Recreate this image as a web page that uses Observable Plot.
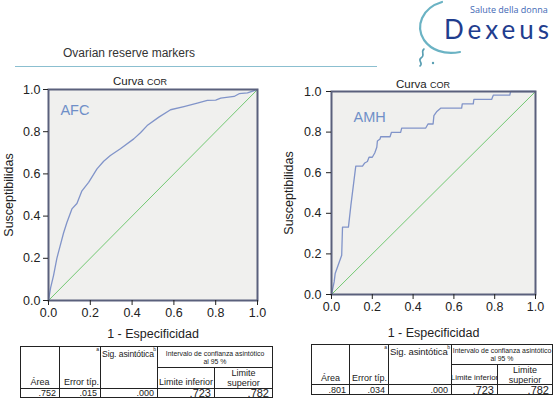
<!DOCTYPE html>
<html>
<head>
<meta charset="utf-8">
<script src="https://cdn.jsdelivr.net/npm/d3@7"></script>
<script src="https://cdn.jsdelivr.net/npm/@observablehq/plot@0.6"></script>
<style>
  html, body { margin: 0; padding: 0; background: #fff; }
  #page { position: relative; width: 553px; height: 398px; overflow: hidden; font-family: "Liberation Sans", Arial, sans-serif; color: #222; }
  .abs { position: absolute; }
  .ctitle { font-size: 11.5px; white-space: nowrap; transform: translateX(-50%); }
  .ctitle small { font-size: 9px; }
  .cell { position: absolute; box-sizing: border-box; border: 1px solid #222; overflow: hidden; white-space: nowrap; color: #222; font-family: "Liberation Sans", Arial, sans-serif; display: flex; }
  .cell sup { position: absolute; right: 1px; top: 0px; font-size: 5px; line-height: 5px; }
</style>
</head>
<body>
<div id="page"></div>
<script>
// ---------------- data ----------------
const afcFpr = [0, 0.01, 0.024, 0.04, 0.056, 0.072, 0.088, 0.112, 0.136, 0.16, 0.192, 0.232, 0.264, 0.296, 0.344, 0.408, 0.44, 0.472, 0.528, 0.584, 0.648, 0.712, 0.76, 0.8, 0.824, 0.888, 0.912, 0.952, 1];
const afcTpr = [0, 0.06, 0.118, 0.2, 0.26, 0.32, 0.37, 0.434, 0.46, 0.52, 0.56, 0.624, 0.66, 0.687, 0.719, 0.766, 0.795, 0.829, 0.869, 0.904, 0.919, 0.935, 0.948, 0.95, 0.959, 0.967, 0.98, 0.984, 1];

const amhFpr = [0, 0.013, 0.018, 0.05, 0.054, 0.083, 0.095, 0.119, 0.152, 0.163, 0.176, 0.184, 0.2, 0.212, 0.222, 0.225, 0.238, 0.241, 0.287, 0.294, 0.339, 0.344, 0.462, 0.473, 0.498, 0.502, 0.515, 0.535, 0.638, 0.641, 0.695, 0.698, 0.785, 0.793, 0.874, 0.878, 1];
const amhTpr = [0, 0.062, 0.103, 0.193, 0.332, 0.332, 0.439, 0.632, 0.632, 0.648, 0.655, 0.676, 0.676, 0.697, 0.725, 0.756, 0.766, 0.777, 0.777, 0.799, 0.799, 0.82, 0.82, 0.84, 0.84, 0.881, 0.9, 0.918, 0.918, 0.939, 0.939, 0.961, 0.961, 0.982, 0.982, 1, 1];

const diagonal = [0, 1];
const tickValues = [0, 0.2, 0.4, 0.6, 0.8, 1];
const tickLabels = ["0.0", "0.2", "0.4", "0.6", "0.8", "1.0"];
const curveNames = ["AFC", "AMH"];

const tableHeaders = ["Área", "Error típ.", "Sig. asintótica", "Intervalo de confianza asintótico", "al 95 %", "Limite inferior", "Limite", "superior"];
const afcStats = [".752", ".015", ".000", ".723", ".782"];
const amhStats = [".801", ".034", ".000", ".723", ".782"];

// ---------------- layout ----------------
const page = document.getElementById("page");

function addDiv(html, css, cls) {
  const d = document.createElement("div");
  d.className = cls || "abs";
  d.innerHTML = html;
  Object.assign(d.style, css);
  page.appendChild(d);
  return d;
}

// header title + rule
addDiv("Ovarian reserve markers", {left: "63px", top: "46px", fontSize: "12px", color: "#333", whiteSpace: "nowrap"});
addDiv("", {left: "15px", top: "66px", width: "362px", height: "0", borderTop: "1.5px solid #8bbfd0"});

// logo
const logo = d3.select(page).append("svg")
  .attr("class", "abs").style("left", "400px").style("top", "0px")
  .attr("width", 153).attr("height", 75);
logo.append("path").attr("d", "M42,2 C22,8 15,26 24,40 C31,50 44,55 60,52")
  .attr("fill", "none").attr("stroke", "#6bb3c4").attr("stroke-width", 2.2).attr("stroke-linecap", "round");
logo.append("path").attr("d", "M24,49 C20,52 26,55 21,58 C17,61 24,63 20,66")
  .attr("fill", "none").attr("stroke", "#5a9fb3").attr("stroke-width", 1.6).attr("stroke-linecap", "round");
logo.append("circle").attr("cx", 33).attr("cy", 63).attr("r", 1.2).attr("fill", "#5a9fb3");
addDiv("Salute della donna", {left: "470px", top: "5px", fontSize: "9px", lineHeight: "10px", color: "#4168b5", fontFamily: "'Open Sans', sans-serif", whiteSpace: "nowrap"});
addDiv("Dexeus", {left: "444px", top: "19px", fontSize: "26px", lineHeight: "20px", color: "#1f3d8e", fontFamily: "Lato, 'Open Sans', sans-serif", letterSpacing: "4px", whiteSpace: "nowrap"});

// ---------------- charts ----------------
function rocChart(fpr, tpr, name, opts) {
  const curve = fpr.map((x, i) => ({x, y: tpr[i]}));
  const fmt = d => tickLabels[tickValues.indexOf(d)] ?? d3.format(".1f")(d);
  return Plot.plot({
    width: 270, height: 275,
    marginLeft: opts.ml, marginRight: opts.mr, marginTop: opts.mt, marginBottom: opts.mb,
    style: {background: "transparent", fontFamily: "'Liberation Sans', Arial, sans-serif", fontSize: "12.5px", color: "#222", overflow: "visible"},
    x: {domain: [0, 1]},
    y: {domain: [0, 1]},
    marks: [
      Plot.frame({fill: "#f0f0ee", stroke: "none"}),
      Plot.link([diagonal], {x1: d => d[0], y1: d => d[0], x2: d => d[1], y2: d => d[1], stroke: "#72c872", strokeWidth: 1}),
      Plot.line(curve, {x: "x", y: "y", stroke: "#8194c9", strokeWidth: 1.3}),
      Plot.frame({stroke: "#5a607c", strokeWidth: 2}),
      Plot.axisX({ticks: tickValues, tickFormat: fmt, tickSize: 5, tickPadding: 3,
        label: "1 - Especificidad", labelAnchor: "center", labelArrow: "none", labelOffset: opts.xlo}),
      Plot.axisY({ticks: tickValues, tickFormat: fmt, tickSize: 5, tickPadding: opts.ytp,
        label: "Susceptibilidas", labelAnchor: "center", labelArrow: "none", labelOffset: opts.ylo}),
      Plot.text([name], {x: opts.lx, y: opts.ly, text: d => d, textAnchor: "start", fill: "#6f8fc8", fontSize: 14.5})
    ]
  });
}

const left = rocChart(afcFpr, afcTpr, curveNames[0], {ml: 48, mr: 13, mt: 19, mb: 45, xlo: 37, ylo: 44, ytp: 3, lx: 0.057, ly: 0.9});
left.style.position = "absolute"; left.style.left = "0px"; left.style.top = "70px";
page.appendChild(left);

const right = rocChart(amhFpr, amhTpr, curveNames[1], {ml: 48, mr: 18, mt: 21, mb: 51, xlo: 42, ylo: 47, ytp: 5, lx: 0.108, ly: 0.872});
right.style.position = "absolute"; right.style.left = "283px"; right.style.top = "70px";
page.appendChild(right);

addDiv("Curva <small>COR</small>", {left: "140px", top: "75px"}, "abs ctitle");
addDiv("Curva <small>COR</small>", {left: "423px", top: "78px"}, "abs ctitle");

// ---------------- tables ----------------
function cell(x1, y1, x2, y2, html, css) {
  return addDiv(html, Object.assign({
    left: x1 + "px", top: y1 + "px", width: (x2 - x1 + 1) + "px", height: (y2 - y1 + 1) + "px"
  }, css || {}), "cell");
}
function statTable(stats, xs, ys, sigFont, infFont) {
  const [x0, x1, x2, x3, x4, x5] = xs;
  const [y0, y1, y2, y3] = ys;
  const base = {fontSize: "9px", lineHeight: "10px"};
  cell(x0, y0, x1, y2, tableHeaders[0], {...base, alignItems: "flex-end", justifyContent: "center", paddingBottom: "1px"});
  cell(x1, y0, x2, y2, tableHeaders[1] + "<sup>a</sup>", {...base, alignItems: "flex-end", justifyContent: "flex-end", paddingBottom: "1px", paddingRight: "1px"});
  cell(x2, y0, x3, y2, tableHeaders[2] + "<sup>b</sup>", {fontSize: sigFont, lineHeight: "10px", alignItems: "flex-start", justifyContent: "flex-start", paddingTop: "2px", paddingLeft: "1px", letterSpacing: "-0.1px"});
  cell(x3, y0, x5, y1, tableHeaders[3] + "<br>" + tableHeaders[4], {fontSize: "6.9px", lineHeight: "8px", alignItems: "center", justifyContent: "center", textAlign: "center", paddingTop: "1px"});
  cell(x3, y1, x4, y2, tableHeaders[5], {fontSize: infFont, lineHeight: "10px", alignItems: "flex-end", justifyContent: "center", paddingBottom: "1px"});
  cell(x4, y1, x5, y2, tableHeaders[6] + "<br>" + tableHeaders[7], {...base, alignItems: "center", justifyContent: "center", textAlign: "center"});
  stats.forEach((s, i) => {
    const big = i >= 3;
    cell(xs[i], y2, xs[i + 1], y3, s, {
      fontSize: big ? "11px" : "9px", lineHeight: (y3 - y2) + "px",
      justifyContent: "flex-end", alignItems: "center", paddingRight: "3px"
    });
  });
}
statTable(afcStats, [20, 59, 100, 157, 214, 272], [346, 367, 388, 397], "8.6px", "9px");
statTable(amhStats, [311, 349, 388, 451, 497, 552], [344, 364, 384, 394], "9.5px", "7.9px");
</script>
</body>
</html>
